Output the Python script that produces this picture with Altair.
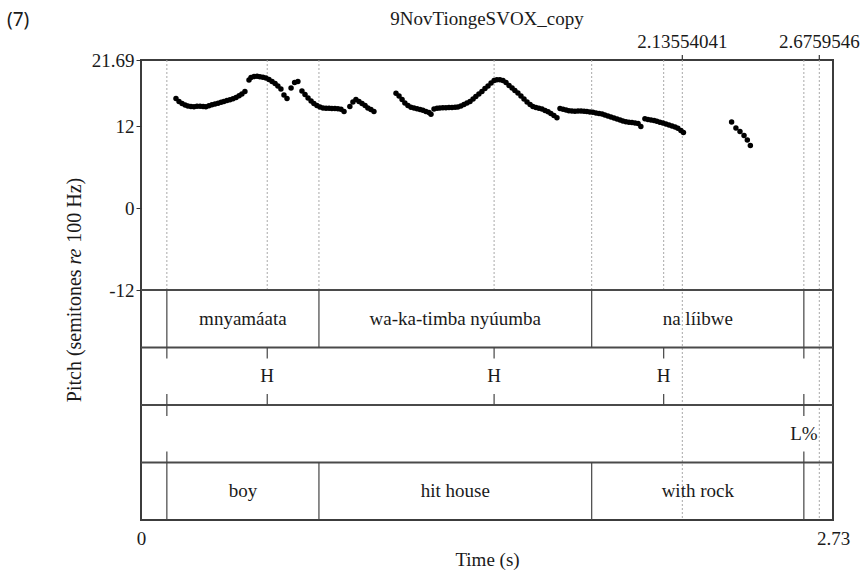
import altair as alt
import pandas as pd

# ---------------- pitch track: semitones re 100 Hz, one pair of lists per voiced stretch
SEG1_T = [0.138, 0.150, 0.162, 0.174, 0.185, 0.197, 0.209, 0.221, 0.233, 0.245,
          0.256, 0.268, 0.280, 0.292, 0.304, 0.316, 0.327, 0.339, 0.351, 0.363,
          0.375, 0.387, 0.398, 0.410, 0.426, 0.434, 0.446, 0.458, 0.469, 0.481,
          0.493, 0.505, 0.517, 0.529, 0.540, 0.552, 0.564, 0.576, 0.592, 0.606,
          0.619, 0.635, 0.647, 0.659, 0.671, 0.682, 0.694, 0.706, 0.718, 0.730,
          0.742, 0.753, 0.765, 0.777, 0.789, 0.801, 0.824, 0.836, 0.848, 0.860,
          0.872, 0.884, 0.895, 0.907, 0.919]
SEG1_ST = [16.05, 15.61, 15.32, 15.10, 14.95, 14.88, 14.85, 14.91, 14.92, 14.88,
           14.85, 14.98, 15.13, 15.24, 15.36, 15.49, 15.61, 15.76, 15.87, 16.01,
           16.20, 16.45, 16.71, 17.08, 18.76, 19.13, 19.27, 19.30, 19.23, 19.16,
           19.05, 18.83, 18.54, 18.25, 17.88, 17.44, 16.56, 16.05, 17.59, 18.39,
           18.54, 17.15, 16.64, 16.12, 15.68, 15.32, 15.03, 14.81, 14.66, 14.62,
           14.62, 14.59, 14.59, 14.56, 14.47, 14.15, 14.88, 15.54, 15.90, 15.61,
           15.32, 15.03, 14.66, 14.44, 14.15]

SEG2_T = [1.006, 1.018, 1.030, 1.041, 1.053, 1.065, 1.077, 1.089, 1.101, 1.112,
          1.124, 1.136, 1.144, 1.156, 1.168, 1.179, 1.191, 1.203, 1.215, 1.227,
          1.239, 1.250, 1.262, 1.274, 1.286, 1.298, 1.310, 1.321, 1.333, 1.345,
          1.357, 1.369, 1.381, 1.393, 1.404, 1.416, 1.428, 1.440, 1.452, 1.464,
          1.475, 1.487, 1.499, 1.511, 1.523, 1.535, 1.546, 1.558, 1.570, 1.582,
          1.594, 1.606, 1.617, 1.629, 1.641]
SEG2_ST = [16.81, 16.42, 15.90, 15.39, 15.03, 14.76, 14.66, 14.56, 14.44, 14.32,
           14.15, 14.00, 13.74, 14.51, 14.62, 14.66, 14.69, 14.70, 14.73, 14.73,
           14.76, 14.81, 14.95, 15.17, 15.39, 15.61, 15.98, 16.34, 16.71, 17.08,
           17.52, 17.88, 18.32, 18.69, 18.80, 18.80, 18.69, 18.39, 17.95, 17.59,
           17.22, 16.86, 16.42, 15.98, 15.54, 15.17, 14.88, 14.73, 14.63, 14.51,
           14.29, 14.12, 13.85, 13.56, 13.24]

SEG3_T = [1.653, 1.665, 1.677, 1.688, 1.700, 1.712, 1.724, 1.736, 1.748, 1.759,
          1.771, 1.783, 1.795, 1.807, 1.819, 1.830, 1.842, 1.854, 1.866, 1.878,
          1.890, 1.901, 1.913, 1.925, 1.937, 1.949, 1.961, 1.972]
SEG3_ST = [14.59, 14.47, 14.37, 14.26, 14.22, 14.19, 14.22, 14.22, 14.19, 14.15,
           14.07, 14.03, 13.93, 13.85, 13.78, 13.63, 13.49, 13.34, 13.19, 13.05,
           12.90, 12.75, 12.65, 12.58, 12.54, 12.46, 12.39, 11.95]

SEG4_T = [1.988, 2.000, 2.012, 2.024, 2.035, 2.047, 2.059, 2.071, 2.083, 2.095,
          2.107, 2.118, 2.130, 2.140]
SEG4_ST = [13.08, 12.97, 12.90, 12.83, 12.71, 12.56, 12.46, 12.32, 12.17, 12.02,
           11.88, 11.69, 11.36, 11.07]

SEG5_T = [2.330, 2.347, 2.363, 2.379, 2.392, 2.404]
SEG5_ST = [12.61, 11.73, 11.22, 10.63, 9.97, 9.17]

SEGMENTS = [(SEG1_T, SEG1_ST), (SEG2_T, SEG2_ST), (SEG3_T, SEG3_ST),
            (SEG4_T, SEG4_ST), (SEG5_T, SEG5_ST)]

# ---------------- TextGrid tiers
WORD_BOUNDS = [0.102, 0.702, 1.778, 2.615]
WORDS = ["mnyamáata", "wa-ka-timba nyúumba", "na líibwe"]
GLOSSES = ["boy", "hit house", "with rock"]
TONE_TIMES = [0.102, 0.498, 1.393, 2.062, 2.615]
TONES = ["", "H", "H", "H", ""]
BREAK_TIMES = [0.102, 2.615]
BREAKS = ["", "L%"]
MARKED_TIMES = [2.13554041, 2.6759546]
MARKED_LABELS = ["2.13554041", "2.6759546"]

X_MAX = 2.73
Y_TICKS = [21.69, 12, 0, -12]
TITLE = "9NovTiongeSVOX_copy"
EXAMPLE_NO = "(7)"

# ---------------- layout
W, H = 692, 460
SERIF = "Liberation Serif"
FS = 19
INK = "#1a1a1a"
Y_TOP, Y_FLOOR = 21.69, -12.0
N_TIERS = 4
TIER = (Y_TOP - Y_FLOOR) / N_TIERS          # each tier as tall as a quarter of the pitch pane
Y_BOTTOM = Y_FLOOR - N_TIERS * TIER
TICK = TIER * 0.19


def tier_top(k):
    return Y_FLOOR - k * TIER


xs = alt.Scale(domain=[0, X_MAX], nice=False, zero=False)
ys = alt.Scale(domain=[Y_BOTTOM, Y_TOP], nice=False, zero=False)
x_axis = alt.Axis(values=[0, X_MAX], labelExpr="toString(datum.value)", ticks=False,
                  domain=False, grid=False, labelFlush=False, labelPadding=9,
                  labelFont=SERIF, labelFontSize=FS, labelColor=INK,
                  title="Time (s)", titleFont=SERIF, titleFontSize=FS,
                  titleFontWeight="normal", titleColor=INK, titlePadding=2)
y_axis = alt.Axis(values=Y_TICKS, labelExpr="toString(datum.value)", tickSize=5,
                  tickColor="#333333", domain=False, grid=False, labelPadding=2,
                  labelFont=SERIF, labelFontSize=FS, labelColor=INK, title=None)


def X(field="t"):
    return alt.X(f"{field}:Q", scale=xs, axis=x_axis)


def Y(field="v"):
    return alt.Y(f"{field}:Q", scale=ys, axis=y_axis)


# pitch points
pitch_df = pd.concat([pd.DataFrame({"t": t, "v": v}) for t, v in SEGMENTS], ignore_index=True)
points = alt.Chart(pitch_df).mark_circle(size=30, color="black", opacity=1).encode(x=X(), y=Y())

# dotted guides in the pitch pane at every boundary / point
guide_times = sorted(set(WORD_BOUNDS + TONE_TIMES + BREAK_TIMES))
guide_df = pd.DataFrame({"t": guide_times, "v": Y_TOP, "v2": Y_FLOOR})
dotted = dict(color="#a8a8a8", strokeDash=[2, 2], strokeWidth=1)
guides = alt.Chart(guide_df).mark_rule(**dotted).encode(x=X(), y=Y(), y2="v2:Q")

# marked times: dotted through the whole frame, tick and label above it
marked_df = pd.DataFrame({"t": MARKED_TIMES, "v": Y_TOP, "v2": Y_BOTTOM, "label": MARKED_LABELS})
marked_lines = alt.Chart(marked_df).mark_rule(**dotted).encode(x=X(), y=Y(), y2="v2:Q")
marked_ticks = alt.Chart(marked_df).mark_rule(color="#333333", strokeWidth=1.2).encode(
    x=X(), y=alt.value(-5), y2=alt.value(0))
marked_text = alt.Chart(marked_df).mark_text(
    font=SERIF, fontSize=FS, color=INK, align="center", baseline="alphabetic").encode(
    x=X(), y=alt.value(-12), text="label:N")

# tier separators
sep_df = pd.DataFrame({"v": [tier_top(k) for k in range(N_TIERS)]})
separators = alt.Chart(sep_df).mark_rule(color="#4a4a4a", strokeWidth=2).encode(y=Y())

# interval boundaries (word tier 0, gloss tier 3)
rows = []
for k in (0, 3):
    for t in WORD_BOUNDS:
        rows.append({"t": t, "v": tier_top(k), "v2": tier_top(k) - TIER})
bounds = alt.Chart(pd.DataFrame(rows)).mark_rule(color="#444444", strokeWidth=1.2).encode(
    x=X(), y=Y(), y2="v2:Q")

# point ticks (tone tier 1, break tier 2)
rows = []
for k, times in ((1, TONE_TIMES), (2, BREAK_TIMES)):
    top, bot = tier_top(k), tier_top(k) - TIER
    for t in times:
        rows.append({"t": t, "v": top, "v2": top - TICK})
        rows.append({"t": t, "v": bot + TICK, "v2": bot})
ticks = alt.Chart(pd.DataFrame(rows)).mark_rule(color="#444444", strokeWidth=1.2).encode(
    x=X(), y=Y(), y2="v2:Q")

# tier labels
rows = []
mids = [(a + b) / 2 for a, b in zip(WORD_BOUNDS[:-1], WORD_BOUNDS[1:])]
for m, w, g in zip(mids, WORDS, GLOSSES):
    rows.append({"t": m, "v": tier_top(0) - TIER / 2, "label": w})
    rows.append({"t": m, "v": tier_top(3) - TIER / 2, "label": g})
for t, lab in zip(TONE_TIMES, TONES):
    if lab:
        rows.append({"t": t, "v": tier_top(1) - TIER / 2, "label": lab})
for t, lab in zip(BREAK_TIMES, BREAKS):
    if lab:
        rows.append({"t": t, "v": tier_top(2) - TIER / 2, "label": lab})
labels = alt.Chart(pd.DataFrame(rows)).mark_text(
    font=SERIF, fontSize=FS, color=INK, align="center", baseline="middle").encode(
    x=X(), y=Y(), text="label:N")

# title and example number
title = alt.Chart(pd.DataFrame({"s": [TITLE]})).mark_text(
    font=SERIF, fontSize=FS, color=INK, align="center", baseline="alphabetic").encode(
    x=alt.value(W / 2), y=alt.value(-35.5), text="s:N")
number = alt.Chart(pd.DataFrame({"s": [EXAMPLE_NO]})).mark_text(
    font="Noto Sans", fontSize=19, color=INK, align="left", baseline="alphabetic").encode(
    x=alt.value(-134), y=alt.value(-34), text="s:N")

# rotated y title with italic "re"
YFS = 20
Y0 = 342.2
pieces = [("Pitch (semitones", "normal", 0.0), ("re", "italic", 137.7), ("100 Hz)", "normal", 159.4)]
ytitle = [
    alt.Chart(pd.DataFrame({"s": [txt]})).mark_text(
        font=SERIF, fontSize=YFS, fontStyle=style, color=INK, angle=270,
        align="left", baseline="middle").encode(
        x=alt.value(-66), y=alt.value(Y0 - off), text="s:N")
    for txt, style, off in pieces
]

chart = alt.layer(
    guides, marked_lines, separators, bounds, ticks, labels, points,
    marked_ticks, marked_text, title, number, *ytitle
).properties(
    width=W, height=H,
    autosize=alt.AutoSizeParams(type="none"),
    padding={"left": 141, "top": 60, "right": 31, "bottom": 52},
    background="white",
).configure_view(stroke="#3c3c3c", strokeWidth=2)

chart.save("out.html", embed_options={"renderer": "svg", "actions": False})
